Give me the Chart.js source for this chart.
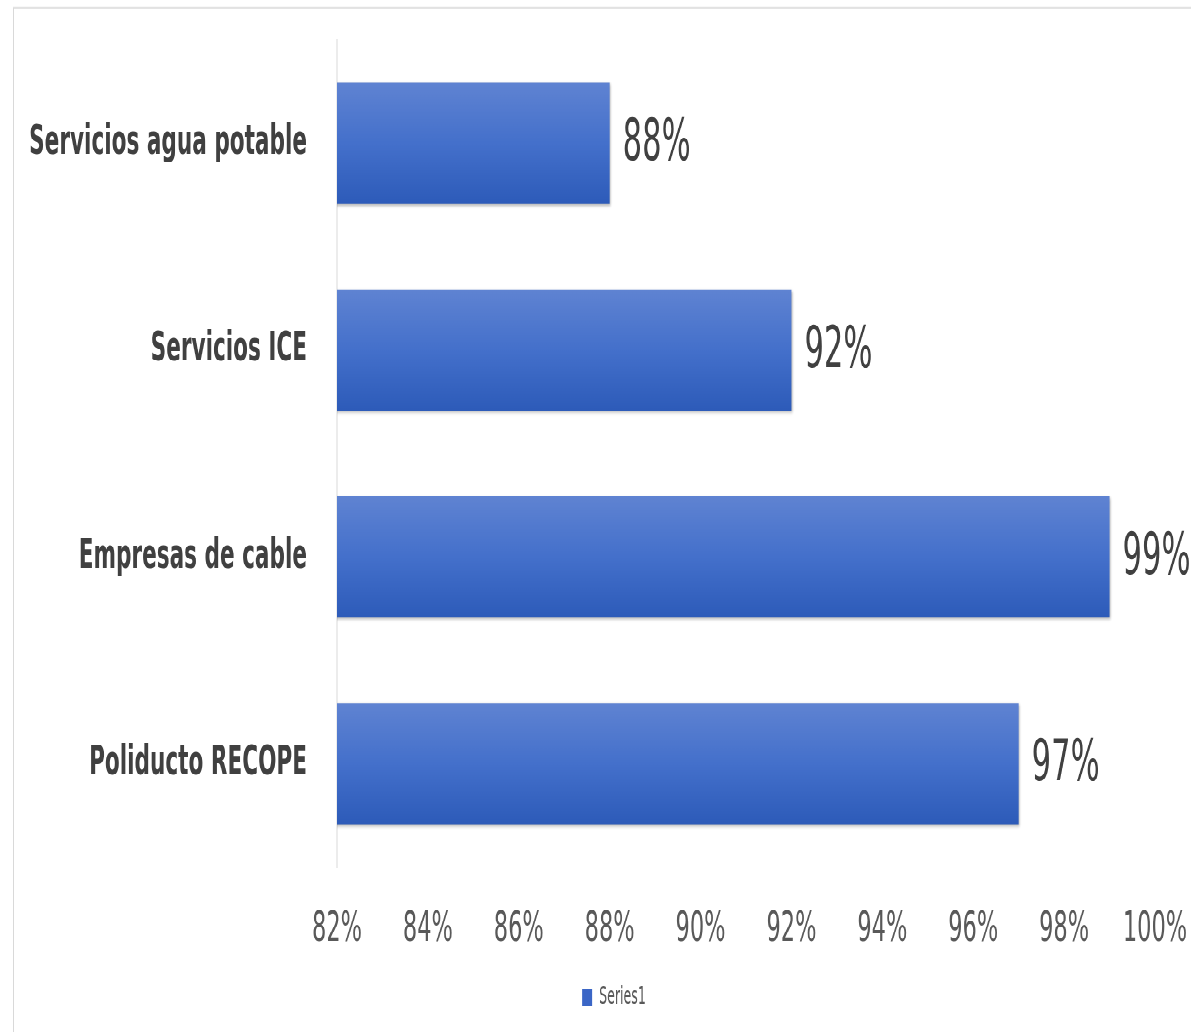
<!DOCTYPE html>
<html>
<head>
<meta charset="utf-8">
<script src="https://cdn.jsdelivr.net/npm/chart.js@4.4.1/dist/chart.umd.min.js"></script>
<style>
  html, body { margin:0; padding:0; background:#ffffff; overflow:hidden; }
  #stage { position:absolute; left:0; top:0; width:1191px; height:607px; transform:scaleY(1.7); transform-origin:0 0; }
  #frame { position:absolute; left:13px; top:4px; width:1200px; height:700px; border:1px solid #d9d9d9; box-sizing:border-box; }
  #wrap { position:absolute; left:0; top:0; width:1191px; height:607px; }
</style>
</head>
<body>
<div id="stage">
  <div id="frame"></div>
  <div id="wrap"><canvas id="c"></canvas></div>
</div>
<script>
// ---- data ----
const categories = ['Servicios agua potable', 'Servicios ICE', 'Empresas de cable', 'Poliducto RECOPE'];
const seriesName = 'Series1';
const values = [88, 92, 99, 97];
const xTickValues = [82, 84, 86, 88, 90, 92, 94, 96, 98, 100];

const FONT = '"DejaVu Sans Condensed", "Liberation Sans Narrow", "DejaVu Sans", sans-serif';
const BAR_PCT = 0.585;
const LEGEND_SHIFT = 73;

function barGradient(context) {
  const chart = context.chart;
  const area = chart.chartArea;
  if (!area) return '#3f6bc8';
  const yScale = chart.scales.y;
  const cy = yScale.getPixelForValue(context.dataIndex);
  const half = (area.bottom - area.top) / categories.length * BAR_PCT / 2;
  const g = chart.ctx.createLinearGradient(0, cy - half, 0, cy + half);
  g.addColorStop(0, '#5f83d2');
  g.addColorStop(0.5, '#4470cb');
  g.addColorStop(1, '#2d5bb9');
  return g;
}

const barExtras = {
  id: 'barExtras',
  afterLayout(chart) {
    if (chart.legend) chart.legend.left += LEGEND_SHIFT;
  },
  beforeDatasetsDraw(chart) {
    const ctx = chart.ctx;
    ctx.save();
    ctx.shadowColor = 'rgba(0,0,0,0.30)';
    ctx.shadowBlur = 4;
    ctx.shadowOffsetX = 2;
    ctx.shadowOffsetY = 2;
  },
  afterDatasetsDraw(chart) {
    const ctx = chart.ctx;
    ctx.restore();
    const meta = chart.getDatasetMeta(0);
    ctx.save();
    ctx.font = '34px ' + FONT;
    ctx.fillStyle = '#404040';
    ctx.textAlign = 'left';
    ctx.textBaseline = 'middle';
    meta.data.forEach((el, i) => {
      ctx.fillText(values[i] + '%', el.x + 13, el.y + 1);
    });
    ctx.restore();
  }
};

new Chart(document.getElementById('c'), {
  type: 'bar',
  data: {
    labels: categories,
    datasets: [{
      label: seriesName,
      data: values,
      backgroundColor: barGradient,
      borderWidth: 0,
      barPercentage: BAR_PCT,
      categoryPercentage: 1.0
    }]
  },
  options: {
    indexAxis: 'y',
    responsive: true,
    maintainAspectRatio: false,
    animation: false,
    devicePixelRatio: 2,
    layout: { padding: { left: 0, right: 36, top: 23.5, bottom: 3 } },
    scales: {
      x: {
        min: 82,
        max: 100,
        afterBuildTicks(scale) { scale.ticks = xTickValues.map(v => ({ value: v })); },
        afterFit(scale) { scale.height = 60; scale.paddingLeft = 0; scale.paddingRight = 0; },
        grid: { display: false, drawTicks: false },
        border: { display: false },
        ticks: {
          autoSkip: false,
          maxRotation: 0,
          padding: 22,
          color: '#595959',
          font: { family: FONT, size: 25 },
          callback: (v) => v + '%'
        }
      },
      y: {
        afterFit(scale) { scale.width = 337; scale.paddingTop = 0; scale.paddingBottom = 0; },
        grid: { display: false, drawTicks: false },
        border: { display: true, color: '#d9d9d9', width: 1 },
        ticks: {
          padding: 30,
          color: '#404040',
          font: { family: FONT, size: 24, weight: 'bold' }
        }
      }
    },
    plugins: {
      tooltip: { enabled: false },
      legend: {
        display: true,
        position: 'bottom',
        labels: {
          boxWidth: 10,
          boxHeight: 10,
          padding: 10,
          color: '#595959',
          font: { family: FONT, size: 14 },
          generateLabels(chart) {
            const items = Chart.defaults.plugins.legend.labels.generateLabels(chart);
            items.forEach(it => { it.fillStyle = '#3b66c6'; it.strokeStyle = '#3b66c6'; it.lineWidth = 0; });
            return items;
          }
        }
      }
    }
  },
  plugins: [barExtras]
});
</script>
</body>
</html>
